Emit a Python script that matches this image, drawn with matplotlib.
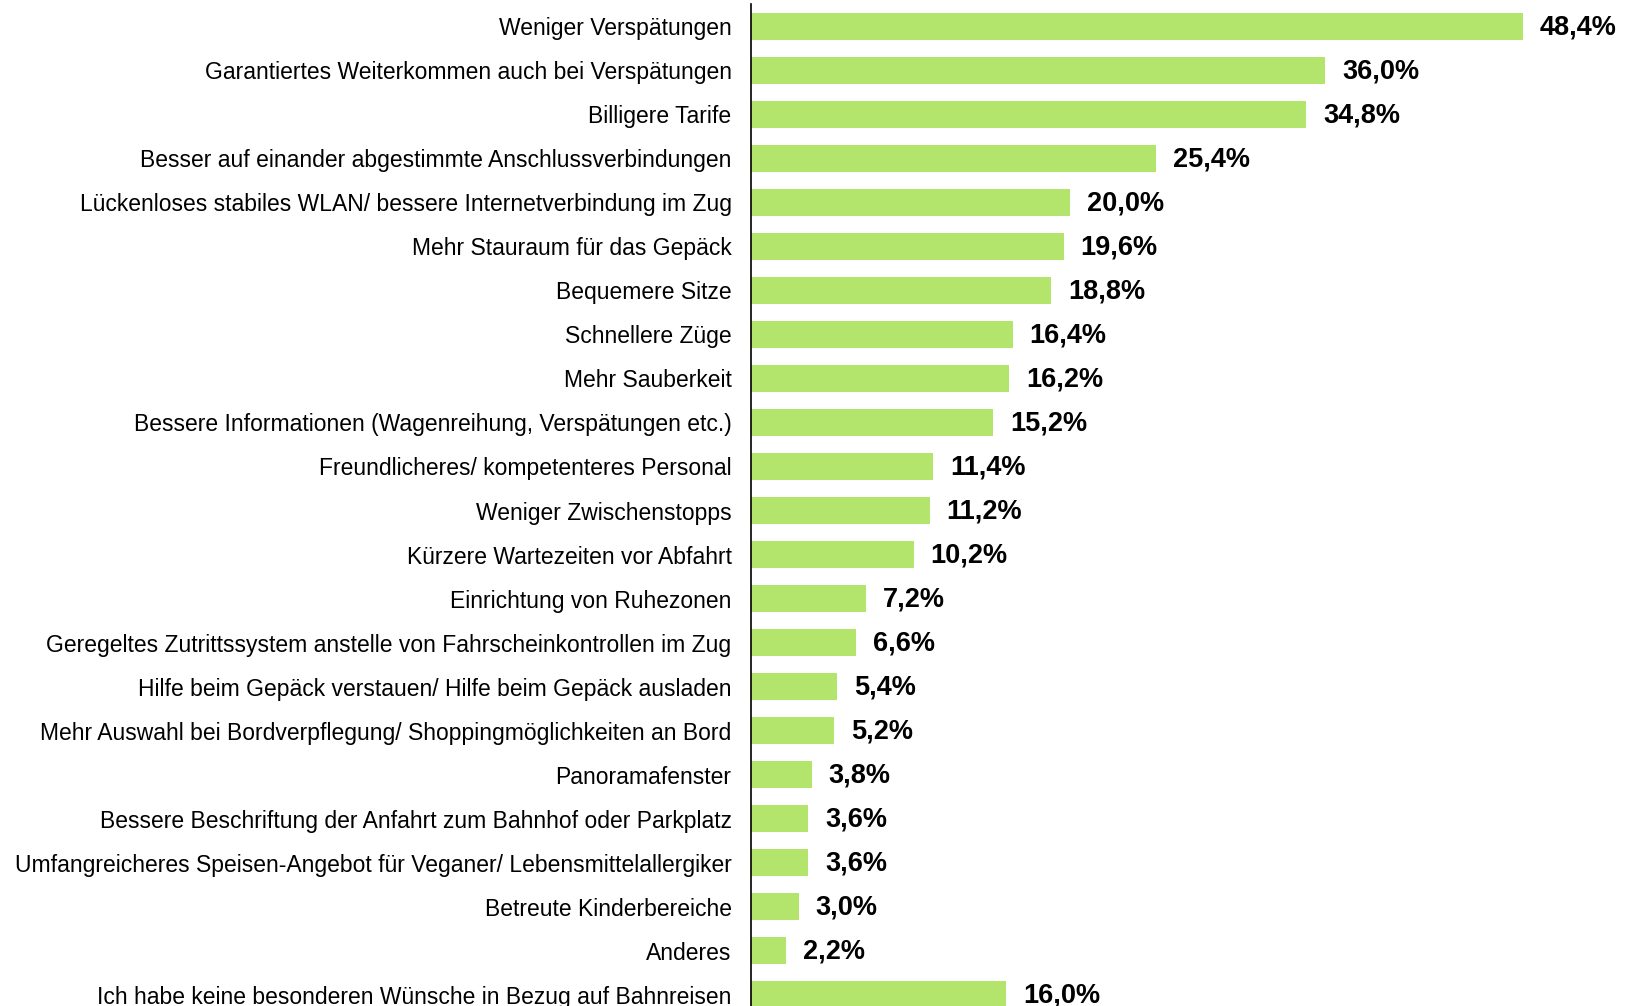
import matplotlib.pyplot as plt
import numpy as np

plt.rcParams["font.family"] = ["Liberation Sans", "DejaVu Sans"]

labels = [
    "Weniger Verspätungen",
    "Garantiertes Weiterkommen auch bei Verspätungen",
    "Billigere Tarife",
    "Besser auf einander abgestimmte Anschlussverbindungen",
    "Lückenloses stabiles WLAN/ bessere Internetverbindung im Zug",
    "Mehr Stauraum für das Gepäck",
    "Bequemere Sitze",
    "Schnellere Züge",
    "Mehr Sauberkeit",
    "Bessere Informationen (Wagenreihung, Verspätungen etc.)",
    "Freundlicheres/ kompetenteres Personal",
    "Weniger Zwischenstopps",
    "Kürzere Wartezeiten vor Abfahrt",
    "Einrichtung von Ruhezonen",
    "Geregeltes Zutrittssystem anstelle von Fahrscheinkontrollen im Zug",
    "Hilfe beim Gepäck verstauen/ Hilfe beim Gepäck ausladen",
    "Mehr Auswahl bei Bordverpflegung/ Shoppingmöglichkeiten an Bord",
    "Panoramafenster",
    "Bessere Beschriftung der Anfahrt zum Bahnhof oder Parkplatz",
    "Umfangreicheres Speisen-Angebot für Veganer/ Lebensmittelallergiker",
    "Betreute Kinderbereiche",
    "Anderes",
    "Ich habe keine besonderen Wünsche in Bezug auf Bahnreisen",
]
values = [48.4, 36.0, 34.8, 25.4, 20.0, 19.6, 18.8, 16.4, 16.2, 15.2, 11.4, 11.2,
          10.2, 7.2, 6.6, 5.4, 5.2, 3.8, 3.6, 3.6, 3.0, 2.2, 16.0]

fig = plt.figure(figsize=(16.3, 10.06), dpi=100)
ax = fig.add_axes([751 / 1630, 0, 1 - 751 / 1630, 1002 / 1006])

y = np.arange(len(values))
ax.barh(y, values, height=0.61, color="#b3e46b")
for yi, v in zip(y, values):
    ax.annotate(f"{v:.1f}%".replace(".", ","), xy=(v, yi), xytext=(17, -8),
                textcoords="offset pixels", va="baseline", ha="left",
                fontsize=19.5, fontweight="bold")

ax.set_xlim(0, 55.1)
ax.set_ylim(22.26, -0.51)
ax.set_yticks(y)
ax.set_yticklabels(labels, fontsize=16.5)
ax.tick_params(axis="y", length=0, pad=14)
ax.set_xticks([])
for s in ["top", "right", "bottom"]:
    ax.spines[s].set_visible(False)
ax.spines["left"].set_linewidth(1.2)

fig.savefig("out.png", dpi=100)
